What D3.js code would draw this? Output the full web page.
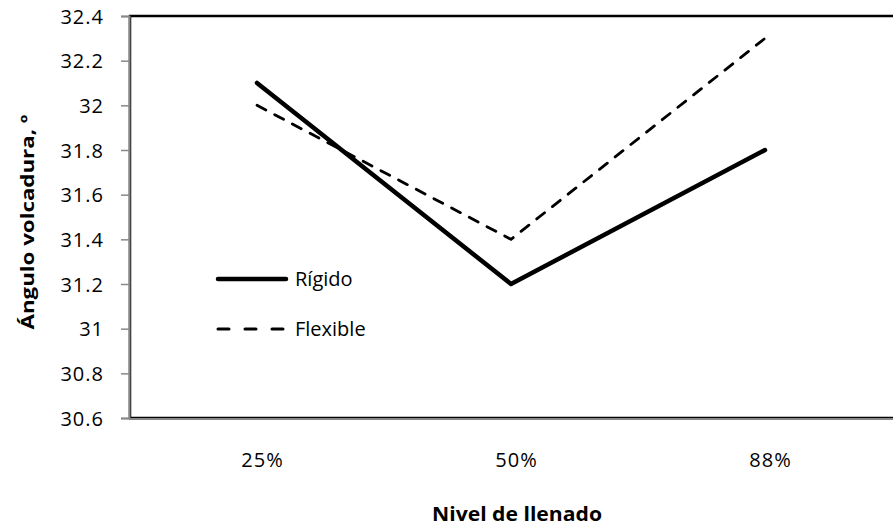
<!DOCTYPE html>
<html><head><meta charset="utf-8">
<script src="https://cdn.jsdelivr.net/npm/d3@7"></script>
<style>body{margin:0;background:#fff;} text{font-family:"Open Sans",sans-serif;fill:#000;}</style>
</head><body>
<svg id="c" width="893" height="527"></svg>
<script>
const categories = ["25%", "50%", "88%"];
const rigido = [32.1, 31.2, 31.8];
const flexible = [32.0, 31.4, 32.3];
const yTicks = [30.6, 30.8, 31, 31.2, 31.4, 31.6, 31.8, 32, 32.2, 32.4];
const seriesNames = ["Rígido", "Flexible"];

const svg = d3.select("#c");
const L = 130, R = 892, T = 16, B = 418;
const x = d3.scalePoint().domain(categories).range([L, R]).padding(0.5);
const y = d3.scaleLinear().domain([30.6, 32.4]).range([B, T]);

// frame
svg.append("rect").attr("x", L).attr("y", T).attr("width", R - L + 4).attr("height", B - T)
  .attr("fill", "none").attr("stroke", "#000").attr("stroke-width", 2.5);

// y axis
const ya = svg.append("g").attr("transform", `translate(${L - 1},0)`)
  .call(d3.axisLeft(y).tickValues(yTicks).tickSize(8).tickPadding(17).tickFormat(d => d3.format("")(+d.toFixed(1))));
ya.select(".domain").attr("stroke", "#888").attr("stroke-width", 2);
ya.selectAll(".tick line").attr("stroke", "#888").attr("stroke-width", 1.5);
ya.selectAll(".tick text").style("font-size", "20px").style("letter-spacing", "1px").attr("dy", "0.36em");

// x axis
const xa = svg.append("g").attr("transform", `translate(0,${B + 1})`)
  .call(d3.axisBottom(x).tickSize(0).tickPadding(0));
xa.select(".domain").attr("stroke", "#888").attr("stroke-width", 2).attr("d", `M${L - 1},0H${R + 2}`);
xa.selectAll(".tick text").style("font-size", "20px").style("letter-spacing", "1px")
  .attr("dy", null).attr("y", 48).attr("dx", 5);

const line = d3.line().x((d, i) => x(categories[i])).y(d => y(d));
svg.append("path").datum(rigido).attr("d", line).attr("fill", "none").attr("stroke", "#000")
  .attr("stroke-width", 4.5).attr("stroke-linecap", "round").attr("stroke-linejoin", "round");
svg.append("path").datum(flexible).attr("d", line).attr("fill", "none").attr("stroke", "#000")
  .attr("stroke-width", 2.8).attr("stroke-dasharray", "10,10").attr("stroke-linecap", "round");

// legend
const lg = svg.append("g");
lg.append("line").attr("x1", 218).attr("x2", 286).attr("y1", 279).attr("y2", 279)
  .attr("stroke", "#000").attr("stroke-width", 4.5).attr("stroke-linecap", "round");
lg.append("line").attr("x1", 218).attr("x2", 286).attr("y1", 329).attr("y2", 329)
  .attr("stroke", "#000").attr("stroke-width", 3).attr("stroke-dasharray", "11,16").attr("stroke-linecap", "round");
lg.append("text").attr("x", 295).attr("y", 279).attr("dy", "0.36em").style("font-size", "20px").text(seriesNames[0]);
lg.append("text").attr("x", 295).attr("y", 329).attr("dy", "0.36em").style("font-size", "20px").text(seriesNames[1]);

// axis titles
svg.append("text").attr("x", 517).attr("y", 521).attr("text-anchor", "middle")
  .attr("textLength", 170).attr("lengthAdjust", "spacingAndGlyphs")
  .style("font-size", "19px").style("font-weight", "bold").text("Nivel de llenado");
svg.append("text").attr("transform", `translate(34,222) rotate(-90)`).attr("text-anchor", "middle")
  .attr("textLength", 215).attr("lengthAdjust", "spacingAndGlyphs")
  .style("font-size", "18px").style("font-weight", "bold").text("Ángulo volcadura, º");
</script>
</body></html>
